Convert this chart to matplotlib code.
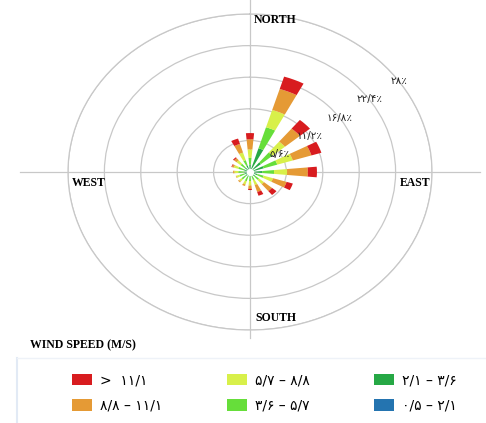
import numpy as np
import matplotlib
matplotlib.use("Agg")
import matplotlib.pyplot as plt
from matplotlib.lines import Line2D

# 16 compass sectors, clockwise from north
directions = ["N", "NNE", "NE", "ENE", "E", "ESE", "SE", "SSE",
              "S", "SSW", "SW", "WSW", "W", "WNW", "NW", "NNW"]

# frequency (%) of each speed class per direction, innermost class first
calm_low = [0.2, 0.3, 0.2, 0.2, 0.2, 0.2, 0.2, 0.2, 0.2, 0.2, 0.2, 0.2, 0.2, 0.2, 0.2, 0.2]   # 0.5 - 2.1
low      = [1.1, 4.1, 2.0, 2.0, 1.7, 1.0, 0.8, 0.6, 0.6, 0.7, 0.7, 0.7, 0.7, 0.8, 0.8, 1.0]   # 2.1 - 3.6
moderate = [1.2, 3.9, 2.3, 2.2, 1.8, 1.0, 0.8, 0.7, 0.8, 0.8, 0.8, 0.8, 0.9, 0.9, 0.9, 1.0]   # 3.6 - 5.7
fresh    = [1.5, 3.2, 2.5, 2.5, 2.0, 1.5, 1.0, 0.9, 0.8, 0.6, 0.5, 0.5, 0.6, 0.7, 0.8, 1.4]   # 5.7 - 8.8
strong   = [1.8, 3.9, 3.0, 3.0, 3.2, 2.2, 1.6, 1.3, 0.6, 0.3, 0.2, 0.1, 0.2, 0.3, 0.5, 1.6]   # 8.8 - 11.1
gale     = [1.1, 2.3, 2.0, 1.6, 1.4, 1.0, 0.9, 0.7, 0.2, 0.0, 0.0, 0.0, 0.0, 0.1, 0.2, 1.0]   # > 11.1

speed_classes = [calm_low, low, moderate, fresh, strong, gale]
class_colors = ["#2474b0", "#26a845", "#66de3a", "#d8f04a", "#e59a35", "#d81c1f"]
class_labels = ["۰/۵ – ۲/۱", "۲/۱ – ۳/۶", "۳/۶ – ۵/۷",
                "۵/۷ – ۸/۸", "۸/۸ – ۱۱/۱", ">  ۱۱/۱"]

rings = [5.6, 11.2, 16.8, 22.4, 28.0]
ring_labels = ["۵/۶٪", "۱۱/۲٪", "۱۶/۸٪", "۲۲/۴٪", "۲۸٪"]

plt.rcParams["font.family"] = ["DejaVu Sans"]

fig = plt.figure(figsize=(4.86, 4.23), dpi=100)
ax = fig.add_axes([68 / 486, 93 / 423, 364 / 486, 316 / 423], projection="polar")
ax.set_theta_zero_location("N")
ax.set_theta_direction(-1)
ax.set_aspect("auto")

theta = np.deg2rad(np.arange(16) * 22.5)
width = np.deg2rad(10.5)
bottom = np.zeros(16)
bars = []
for seg, col in zip(speed_classes, class_colors):
    b = ax.bar(theta, seg, width=width, bottom=bottom, color=col,
               edgecolor="none", zorder=3)
    bars.append(b)
    bottom += np.array(seg)

ax.scatter([0], [0], s=18, color="white", zorder=5)

ax.set_ylim(0, 28)
ax.set_yticks(rings)
ax.set_yticklabels([])
ax.set_xticks([])
ax.yaxis.grid(True, color="#c8c8c8", lw=0.9)
ax.xaxis.grid(False)
ax.spines["polar"].set_color("#c8c8c8")
ax.spines["polar"].set_linewidth(0.9)

# compass cross running past the outer ring
for ang, rext in [(0, 30.5), (90, 35.4), (180, 29.4), (270, 35.4)]:
    ax.plot([np.deg2rad(ang)] * 2, [0, rext], color="#c8c8c8", lw=0.9,
            clip_on=False, zorder=1)

for r, lab in zip(rings, ring_labels):
    ax.text(np.deg2rad(55), r, lab, fontsize=7.5, ha="center", va="center",
            color="#222222", zorder=6)

serif = dict(family="Liberation Serif", weight="bold", fontsize=8.5)
ax.annotate("NORTH", xy=(0, 26.9), xytext=(3, 0), textcoords="offset points",
            ha="left", va="center", **serif)
ax.annotate("SOUTH", xy=(np.pi, 25.9), xytext=(4, 0), textcoords="offset points",
            ha="left", va="center", **serif)
ax.annotate("WEST", xy=(np.deg2rad(270), 27.4), xytext=(0, -8), textcoords="offset points",
            ha="left", va="center", **serif)
ax.annotate("EAST", xy=(np.deg2rad(90), 27.7), xytext=(0, -8), textcoords="offset points",
            ha="right", va="center", **serif)

fig.text(30 / 486, 1 - 345 / 423, "WIND SPEED (M/S)", ha="left", va="center", **serif)

# faint frame around the legend block
fig.add_artist(Line2D([17 / 486, 17 / 486], [0, 1 - 358 / 423], color="#e2eaf5", lw=1.5))
fig.add_artist(Line2D([17 / 486, 1], [1 - 358 / 423] * 2, color="#eef2f8", lw=1.0))

order = [5, 4, 3, 2, 1, 0]
fig.legend([bars[i] for i in order], [class_labels[i] for i in order],
           ncol=3, loc="upper left", bbox_to_anchor=(72 / 486, 1 - 373 / 423),
           frameon=False, fontsize=10, handlelength=1.45, handleheight=0.85,
           handletextpad=0.6, columnspacing=4.6, labelspacing=0.85,
           borderpad=0, borderaxespad=0)

fig.savefig("out.png", dpi=100, facecolor="white")
